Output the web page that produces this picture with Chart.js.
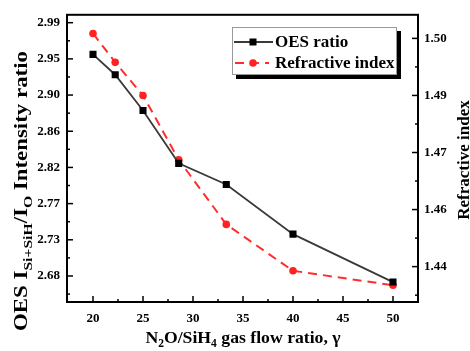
<!DOCTYPE html>
<html><head><meta charset="utf-8">
<script src="https://cdn.jsdelivr.net/npm/chart.js@4"></script>
<style>html,body{margin:0;padding:0;background:#fff}#wrap{width:470px;height:351px}</style>
</head><body><div id="wrap"><canvas id="c" width="470" height="351"></canvas></div>
<script>
// ---- data ----
const flowRatios = [20, 22.22, 25, 28.57, 33.33, 40, 50];
const oesRatio = [2.955, 2.930, 2.886, 2.821, 2.795, 2.734, 2.675];
const refractiveIndex = [1.5013, 1.4937, 1.4850, 1.4681, 1.4511, 1.4389, 1.4351];
const xTicks = [20, 25, 30, 35, 40, 45, 50];
const leftTickValues = [2.994, 2.9495, 2.905, 2.8605, 2.816, 2.7715, 2.727, 2.6825];
const leftTickLabels = ["2.99", "2.95", "2.90", "2.86", "2.82", "2.77", "2.73", "2.68"];
const rightTickValues = [1.500, 1.485, 1.470, 1.455, 1.440];
const rightTickLabels = ["1.50", "1.49", "1.47", "1.46", "1.44"];
const seriesNames = ["OES ratio", "Refractive index"];

const SERIF = "'Liberation Serif', 'Times New Roman', serif";
const tickFont = { family: SERIF, weight: 'bold', size: 13 };

function drawRich(ctx, parts, cx, cy, rot, size, subSize, subOff, targetLen) {
  ctx.save();
  ctx.translate(cx, cy);
  ctx.rotate(rot);
  ctx.textBaseline = 'alphabetic';
  ctx.fillStyle = '#000';
  let w = 0;
  const widths = parts.map(p => {
    ctx.font = 'bold ' + (p[1] ? subSize : size) + 'px ' + SERIF;
    const m = ctx.measureText(p[0]).width; w += m; return m;
  });
  if (targetLen) ctx.scale(targetLen / w, 1);
  let x = -w / 2;
  const base = size * 0.33;
  parts.forEach((p, i) => {
    ctx.font = 'bold ' + (p[1] ? subSize : size) + 'px ' + SERIF;
    ctx.fillText(p[0], x, base + (p[1] ? subOff : 0));
    x += widths[i];
  });
  ctx.restore();
}

function mids(vals) {
  const out = [];
  for (let i = 0; i < vals.length - 1; i++) out.push((vals[i] + vals[i + 1]) / 2);
  const step = vals[1] - vals[0];
  out.push(vals[0] - step / 2);
  out.push(vals[vals.length - 1] + step / 2);
  return out;
}

const framePlugin = {
  id: 'frame',
  afterDatasetsDraw(chart) {
    const ctx = chart.ctx, a = chart.chartArea;
    const sx = chart.scales.x, sy = chart.scales.y, sr = chart.scales.y1;
    ctx.save();
    ctx.strokeStyle = '#000';
    ctx.lineWidth = 1.5;
    const tick = (x1, y1, x2, y2) => { ctx.beginPath(); ctx.moveTo(x1, y1); ctx.lineTo(x2, y2); ctx.stroke(); };
    xTicks.forEach(v => { const p = sx.getPixelForValue(v); tick(p, a.bottom, p, a.bottom - 6); });
    mids(xTicks).forEach(v => { if (v > sx.min + 0.3 && v < sx.max - 0.3) { const p = sx.getPixelForValue(v); tick(p, a.bottom, p, a.bottom - 3); } });
    leftTickValues.forEach(v => { const p = sy.getPixelForValue(v); tick(a.left, p, a.left + 6, p); });
    mids(leftTickValues).forEach(v => { if (v > sy.min && v < sy.max) { const p = sy.getPixelForValue(v); tick(a.left, p, a.left + 3, p); } });
    rightTickValues.forEach(v => { const p = sr.getPixelForValue(v); tick(a.right, p, a.right - 6, p); });
    mids(rightTickValues).forEach(v => { if (v > sr.min && v < sr.max) { const p = sr.getPixelForValue(v); tick(a.right, p, a.right - 3, p); } });
    ctx.lineWidth = 2;
    ctx.strokeRect(a.left, a.top, a.right - a.left, a.bottom - a.top);

    // legend
    const lx = 232, ly = 27, lw = 165, lh = 48;
    ctx.fillStyle = '#000';
    ctx.fillRect(lx + 4, ly + 4, lw, lh);
    ctx.fillStyle = '#fff';
    ctx.fillRect(lx, ly, lw, lh);
    ctx.strokeStyle = '#999';
    ctx.lineWidth = 1;
    ctx.strokeRect(lx + 0.5, ly + 0.5, lw - 1, lh - 1);
    const rows = [ly + 15, ly + 36];
    chart.data.datasets.forEach((ds, i) => {
      const y = rows[i];
      ctx.save();
      ctx.strokeStyle = ds.borderColor;
      ctx.lineWidth = ds.borderWidth;
      ctx.setLineDash(ds.borderDash || []);
      ctx.beginPath();
      if (i === 0) { ctx.moveTo(lx + 2, y); ctx.lineTo(lx + 41, y); }
      else { ctx.moveTo(lx + 3, y); ctx.lineTo(lx + 37, y); }
      ctx.stroke();
      ctx.setLineDash([]);
      ctx.fillStyle = ds.pointBackgroundColor;
      if (i === 0) ctx.fillRect(lx + 21 - 3.5, y - 3.5, 7, 7);
      else { ctx.beginPath(); ctx.arc(lx + 21, y, 3.8, 0, Math.PI * 2); ctx.fill(); }
      ctx.restore();
      ctx.fillStyle = '#000';
      ctx.font = 'bold 17px ' + SERIF;
      ctx.textBaseline = 'middle';
      ctx.fillText(seriesNames[i], lx + 43, y + 1);
    });

    // axis titles
    drawRich(ctx, [["N", 0], ["2", 1], ["O/SiH", 0], ["4", 1], [" gas flow ratio, \u03b3", 0]], 243, 337, 0, 17.7, 11.5, 4, 0);
    drawRich(ctx, [["OES I", 0], ["Si+SiH", 1], ["/I", 0], ["O", 1], [" Intensity ratio", 0]], 21, 191, -Math.PI / 2, 19, 13, 5, 280);
    drawRich(ctx, [["Refractive index", 0]], 463, 160, -Math.PI / 2, 17, 11, 4, 0);
    ctx.restore();
  }
};

new Chart(document.getElementById('c'), {
  type: 'line',
  data: {
    datasets: [
      {
        label: seriesNames[0],
        data: flowRatios.map((x, i) => ({ x, y: oesRatio[i] })),
        yAxisID: 'y',
        borderColor: '#3a3a3a', borderWidth: 1.8,
        pointStyle: 'rect', pointRadius: 5, pointBackgroundColor: '#000', pointBorderColor: '#000', pointBorderWidth: 0,
        tension: 0
      },
      {
        label: seriesNames[1],
        data: flowRatios.map((x, i) => ({ x, y: refractiveIndex[i] })),
        yAxisID: 'y1',
        borderColor: '#ff2d2d', borderWidth: 2, borderDash: [9, 6],
        pointStyle: 'circle', pointRadius: 3.8, pointBackgroundColor: '#ff2222', pointBorderColor: '#ff2222', pointBorderWidth: 0,
        tension: 0
      }
    ]
  },
  options: {
    responsive: false, animation: false, devicePixelRatio: 1,
    layout: { padding: { top: 12, left: 0, right: 0, bottom: 0 } },
    plugins: { legend: { display: false }, tooltip: { enabled: false } },
    scales: {
      x: {
        type: 'linear', min: 17.4, max: 52.5,
        afterBuildTicks: s => { s.ticks = xTicks.map(v => ({ value: v })); },
        afterFit: s => { s.height = 49; },
        grid: { display: false, drawTicks: false }, border: { display: false },
        ticks: { font: tickFont, color: '#000', padding: 9, autoSkip: false, maxRotation: 0, callback: v => String(v) }
      },
      y: {
        position: 'left', min: 2.6505, max: 3.0037,
        afterBuildTicks: s => { s.ticks = leftTickValues.map(v => ({ value: v })); },
        afterFit: s => { s.width = 67; },
        grid: { display: false, drawTicks: false }, border: { display: false },
        ticks: { font: tickFont, color: '#000', padding: 7, autoSkip: false, callback: (v, i) => leftTickLabels[i] }
      },
      y1: {
        position: 'right', min: 1.4307, max: 1.5062,
        afterBuildTicks: s => { s.ticks = rightTickValues.map(v => ({ value: v })); },
        afterFit: s => { s.width = 52; },
        grid: { display: false, drawTicks: false }, border: { display: false },
        ticks: { font: tickFont, color: '#000', padding: 6, autoSkip: false, callback: (v, i) => rightTickLabels[i] }
      }
    }
  },
  plugins: [framePlugin]
});
</script>
</body></html>
